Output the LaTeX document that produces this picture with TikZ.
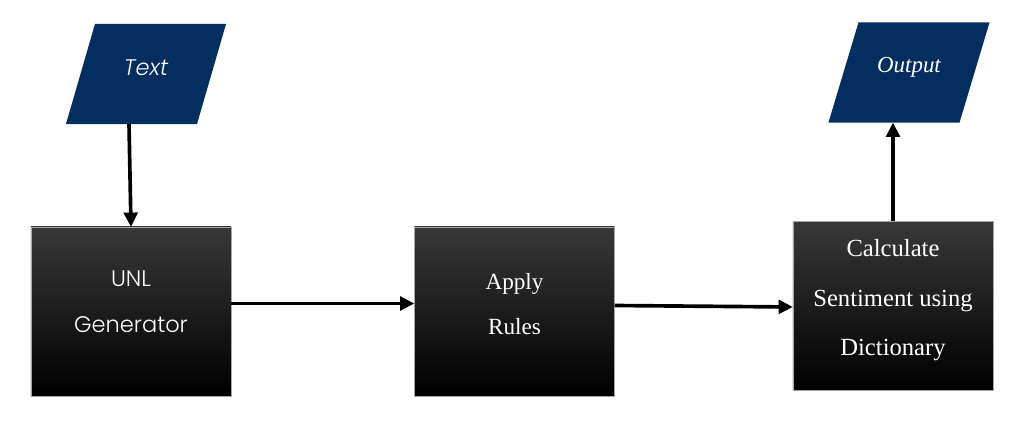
\documentclass[tikz,border=0pt]{standalone}
\usepackage{fontspec}
\setmainfont{Liberation Serif}
\newfontfamily\gothic{Poppins Light}
\usetikzlibrary{arrows.meta, positioning, calc, backgrounds}
\definecolor{navy}{RGB}{5,46,96}
\tikzset{
  io/.style={text=white, minimum height=2.5cm, minimum width=3.275cm, inner sep=0pt, outer sep=0pt},
  slantfill/.style={fill=navy},
  stage/.style={draw=gray!70, line width=0.6pt, top color=black!78, bottom color=black, text=white,
    minimum height=4.225cm, minimum width=5cm, align=center, inner sep=0pt, outer sep=0pt},
  arr/.style={-{Triangle[length=3.6mm, width=3.4mm]}, line width=2.6pt},
}

\begin{document}
\begin{tikzpicture}[x=0.025cm, y=-0.025cm]
    \useasboundingbox (0,0) rectangle (1035,434);
    \node[io, font=\gothic\itshape\fontsize{16}{18}\selectfont, text depth=0.3cm] (txt) at (146,74) {Text};
    \node[io, font=\itshape\fontsize{16.3}{18}\selectfont, text depth=0.36cm] (out) at (909,72.5) {Output};
    \begin{scope}[on background layer]
      \fill[slantfill] ($(txt.north west)+(14.5,0)$) -- ($(txt.north east)+(14.5,0)$)
        -- ($(txt.south east)+(-14.5,0)$) -- ($(txt.south west)+(-14.5,0)$) -- cycle;
      \fill[slantfill] ($(out.north west)+(15,0)$) -- ($(out.north east)+(15,0)$)
        -- ($(out.south east)+(-15,0)$) -- ($(out.south west)+(-15,0)$) -- cycle;
    \end{scope}
    \node[stage, font=\gothic\fontsize{16}{33}\selectfont, text depth=0.5cm] (unl) at (131,311.5) {UNL\\Generator};
    \node[stage, font=\fontsize{16.5}{32}\selectfont, text depth=0.4cm] (rules) at (514.5,311.5) {Apply\\Rules};
    \node[stage, font=\fontsize{17.5}{35}\selectfont, text depth=0.42cm] (calc) at (893,306) {Calculate\\Sentiment using\\Dictionary};
    \draw[arr] ($(unl.north |- txt.south)+(-2,0)$) -- (unl.north);
    \draw[arr] ($(unl.east)+(0,-8)$) -- (rules.west |- {$(unl.east)+(0,-8)$});
    \draw[arr] ($(rules.east)+(0,-6)$) -- ($(calc.west)+(0,1)$);
    \draw[arr] (calc.north) -- (calc.north |- out.south);
\end{tikzpicture}
\end{document}
